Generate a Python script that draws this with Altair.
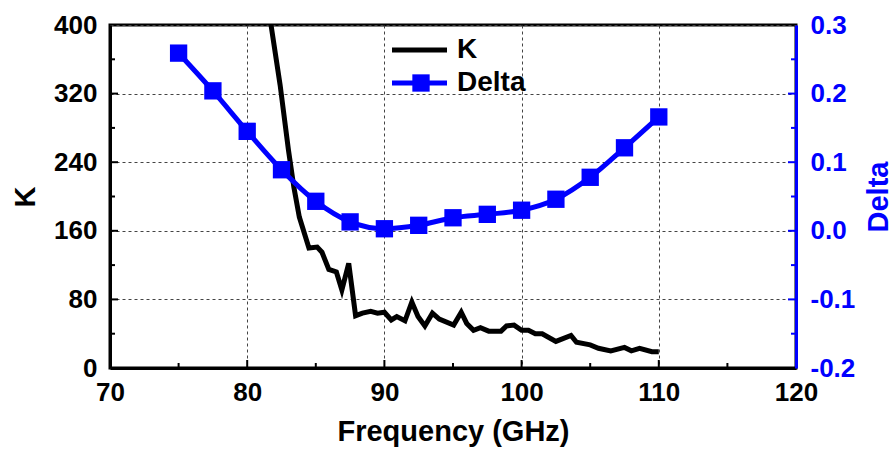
import altair as alt
import pandas as pd

# ---- data ----
k_freq = [81.5, 82.4, 83.0, 83.4, 83.8, 84.5, 85.1, 85.45, 85.95, 86.5, 86.9, 87.4, 87.9,
          88.4, 89.0, 89.5, 90.0, 90.5, 90.9, 91.5, 92.0, 92.45, 92.95, 93.5, 94.0, 95.05,
          95.6, 96.0, 96.5, 97.0, 97.6, 98.5, 98.9, 99.45, 100.0, 100.5, 101.0, 101.5,
          102.5, 103.6, 104.0, 105.0, 105.6, 106.5, 107.5, 108.0, 108.6, 109.5, 110.0]
k_vals = [425, 330, 255, 211, 176, 140, 141, 135, 115, 112, 91, 122, 61,
          64, 66, 64, 65, 56, 60, 55, 77, 60, 49, 64, 57, 50,
          65, 52, 44, 47, 43, 43, 49, 50, 44, 44, 40, 40,
          31, 38, 30, 27, 23, 20, 24, 20, 23, 19, 19]

d_freq = [75, 77.5, 80, 82.5, 85, 87.5, 90, 92.5, 95, 97.5, 100, 102.5, 105, 107.5, 110]
d_vals = [0.259, 0.204, 0.145, 0.089, 0.043, 0.013, 0.003, 0.008, 0.019, 0.024,
          0.030, 0.046, 0.078, 0.121, 0.166]

x_major = [80, 90, 100, 110]
x_minor = [75, 85, 95, 105, 115]
k_major = [80, 160, 240, 320]
k_minor = [40, 120, 200, 280, 360]
d_major = [-0.1, 0.0, 0.1, 0.2]
d_minor = [-0.15, -0.05, 0.05, 0.15, 0.25]

W, H = 686, 343
FONT = "Liberation Sans"

k_df = pd.DataFrame({"f": k_freq, "K": k_vals})
d_df = pd.DataFrame({"f": d_freq, "d": d_vals})

xscale = alt.Scale(domain=[70, 120], nice=False, zero=False)
kscale = alt.Scale(domain=[0, 400], nice=False)
dscale = alt.Scale(domain=[-0.2, 0.3], nice=False, zero=False)

x_axis = alt.Axis(values=[70, 80, 90, 100, 110, 120], title="Frequency (GHz)", grid=True,
                  gridDash=[3, 3], gridColor="#444", gridWidth=1, ticks=False,
                  domainColor="black", domainWidth=3, labelPadding=11, titlePadding=12,
                  orient="bottom", labelFlush=False)
k_axis = alt.Axis(values=[0, 80, 160, 240, 320, 400], title="K", grid=True,
                  gridDash=[3, 3], gridColor="#444", gridWidth=1, ticks=False,
                  domainColor="black", domainWidth=3, labelPadding=13, titlePadding=13,
                  labelFlush=False)
d_axis = alt.Axis(orient="right", values=[-0.2, -0.1, 0.0, 0.1, 0.2, 0.3], title="Delta",
                  grid=False, ticks=False, domainColor="blue", domainWidth=3,
                  labelColor="blue", titleColor="blue", labelPadding=14, titlePadding=10,
                  titleAngle=270, titleBaseline="top", labelFlush=False,
                  labelExpr="datum.value < 0 ? '-' + format(-datum.value, '.1f') : format(datum.value, '.1f')")

def X(field):
    return alt.X(field, scale=xscale, axis=x_axis)

k_line = alt.Chart(k_df).mark_line(color="black", strokeWidth=5, clip=True).encode(
    x=X("f:Q"),
    y=alt.Y("K:Q", scale=kscale, axis=k_axis),
)

xt_major = alt.Chart(pd.DataFrame({"v": x_major})).mark_rule(color="black", strokeWidth=2).encode(
    x=X("v:Q"), y=alt.value(H), y2=alt.value(H - 8))
xt_minor = alt.Chart(pd.DataFrame({"v": x_minor})).mark_rule(color="black", strokeWidth=2).encode(
    x=X("v:Q"), y=alt.value(H), y2=alt.value(H - 5))
kt_major = alt.Chart(pd.DataFrame({"v": k_major})).mark_rule(color="black", strokeWidth=2).encode(
    y=alt.Y("v:Q", scale=kscale, axis=None), x=alt.value(0), x2=alt.value(8))
kt_minor = alt.Chart(pd.DataFrame({"v": k_minor})).mark_rule(color="black", strokeWidth=2).encode(
    y=alt.Y("v:Q", scale=kscale, axis=None), x=alt.value(0), x2=alt.value(5))

d_line = alt.Chart(d_df).mark_line(color="blue", strokeWidth=5, interpolate="monotone").encode(
    x=X("f:Q"),
    y=alt.Y("d:Q", scale=dscale, axis=d_axis),
)
d_pts = alt.Chart(d_df).mark_square(color="blue", size=300, opacity=1, filled=True).encode(
    x=X("f:Q"),
    y=alt.Y("d:Q", scale=dscale, axis=None),
)
dt_major = alt.Chart(pd.DataFrame({"v": d_major})).mark_rule(color="blue", strokeWidth=2).encode(
    y=alt.Y("v:Q", scale=dscale, axis=None), x=alt.value(W), x2=alt.value(W - 8))
dt_minor = alt.Chart(pd.DataFrame({"v": d_minor})).mark_rule(color="blue", strokeWidth=2).encode(
    y=alt.Y("v:Q", scale=dscale, axis=None), x=alt.value(W), x2=alt.value(W - 5))

# legend (manual)
one = pd.DataFrame({"a": [0]})
leg_k_line = alt.Chart(one).mark_rule(color="black", strokeWidth=5).encode(
    x=alt.value(282), x2=alt.value(337), y=alt.value(25))
leg_k_text = alt.Chart(one).mark_text(text="K", align="left", baseline="middle", font=FONT,
                                      fontWeight="bold", fontSize=28, color="black").encode(
    x=alt.value(347), y=alt.value(25))
leg_d_line = alt.Chart(one).mark_rule(color="blue", strokeWidth=5).encode(
    x=alt.value(282), x2=alt.value(337), y=alt.value(58))
leg_d_pt = alt.Chart(one).mark_square(color="blue", size=300, opacity=1).encode(
    x=alt.value(311), y=alt.value(58))
leg_d_text = alt.Chart(one).mark_text(text="Delta", align="left", baseline="middle", font=FONT,
                                      fontWeight="bold", fontSize=28, color="black").encode(
    x=alt.value(347), y=alt.value(58))

chart = alt.layer(
    k_line, xt_major, xt_minor, kt_major, kt_minor,
    d_line, d_pts, dt_major, dt_minor,
    leg_k_line, leg_k_text, leg_d_line, leg_d_pt, leg_d_text,
).resolve_scale(y="independent").properties(
    width=W, height=H,
    autosize=alt.AutoSizeParams(type="none"),
    padding={"left": 110, "top": 25, "right": 98, "bottom": 84},
).configure_view(stroke="black", strokeWidth=3).configure_axis(
    labelFont=FONT, labelFontWeight="bold", labelFontSize=26, labelColor="black",
    titleFont=FONT, titleFontWeight="bold", titleFontSize=29, titleColor="black",
)

chart.save("out.html", embed_options={"renderer": "svg", "actions": False})
